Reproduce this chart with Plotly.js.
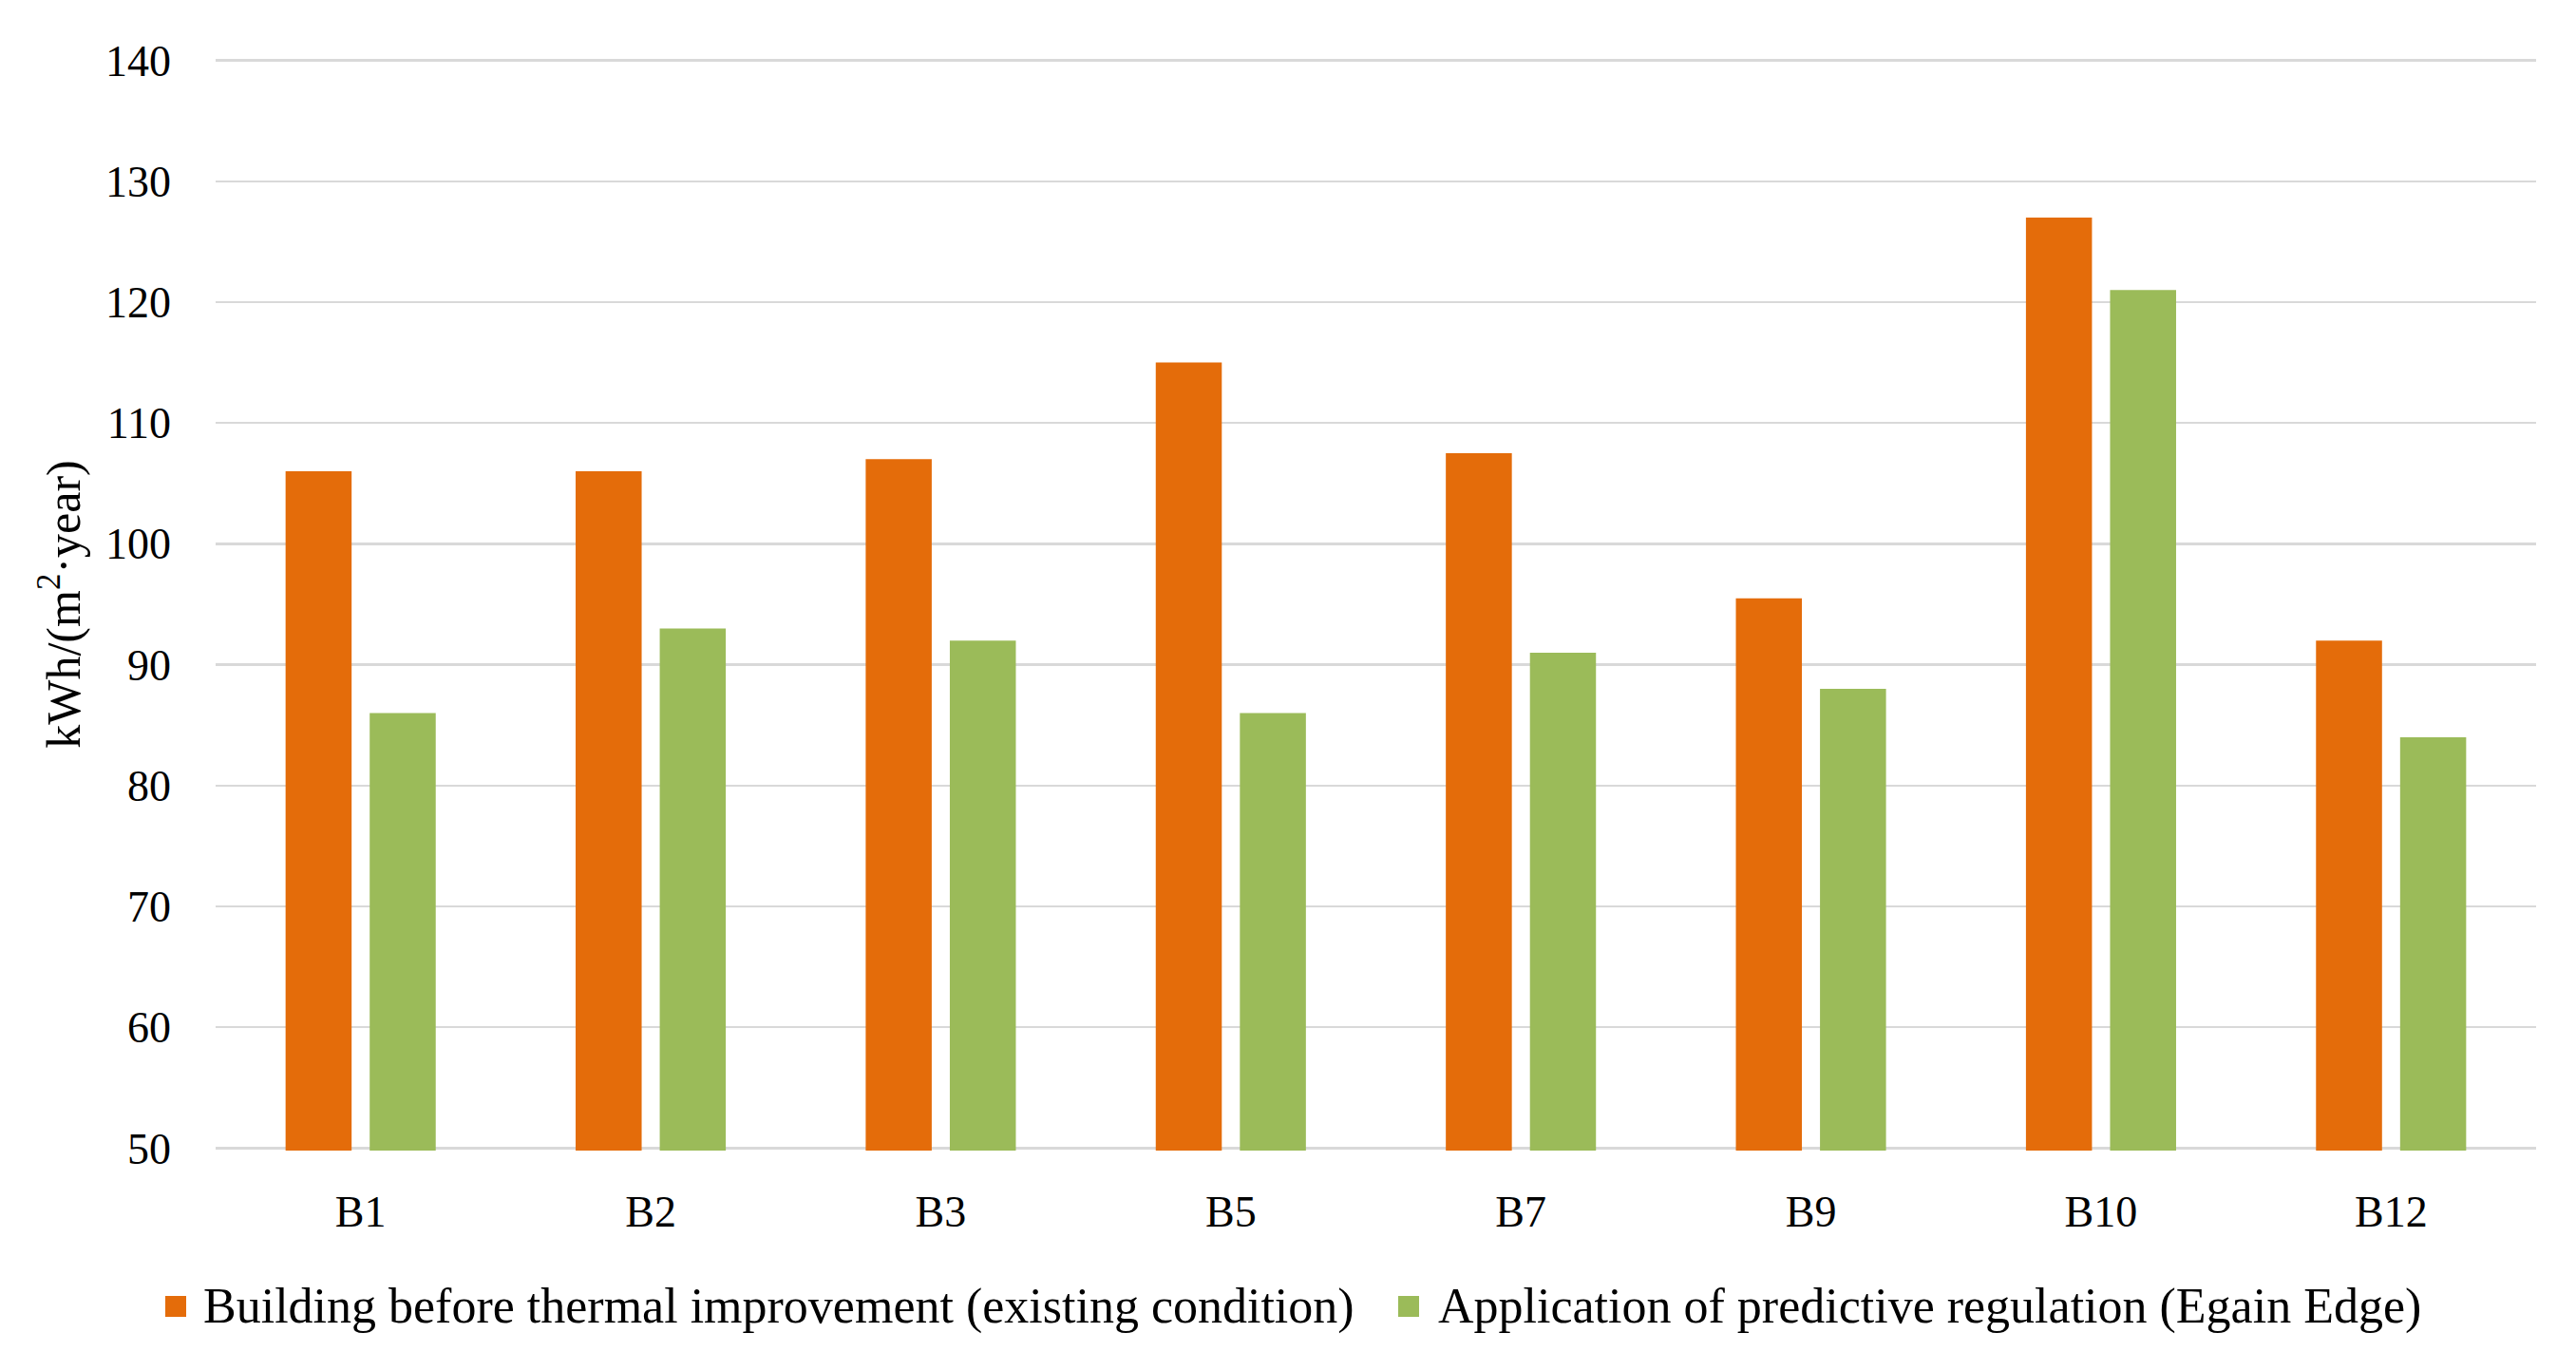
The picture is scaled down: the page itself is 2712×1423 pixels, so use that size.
<!DOCTYPE html>
<html>
<head>
<meta charset="utf-8">
<script src="https://cdn.plot.ly/plotly-3.0.1.min.js"></script>
<style>html,body{margin:0;padding:0;background:#fff;}#chart{width:2712px;height:1423px;}</style>
</head>
<body>
<div id="chart"></div>
<script>
const categories = ["B1", "B2", "B3", "B5", "B7", "B9", "B10", "B12"];
const seriesNames = [
  "Building before thermal improvement (existing condition)",
  "Application of predictive regulation (Egain Edge)"
];
const beforeValues = [106, 106, 107, 115, 107.5, 95.5, 127, 92];
const predictiveValues = [86, 93, 92, 86, 91, 88, 121, 84];
const yTickValues = [50, 60, 70, 80, 90, 100, 110, 120, 130, 140];
const yTitle = "kWh/(m<sup>2</sup>·year)";
const seriesColors = ["#E46C0A", "#9BBB59"];

const FONT = "'Liberation Serif', 'Times New Roman', serif";

// page geometry (pixels)
const W = 2712, H = 1423;
const M = {l: 227, r: 42, t: 61, b: 212};
const plotW = W - M.l - M.r, plotH = H - M.t - M.b;
const px2x = function (px) { return (px - M.l) / plotW; };
const py2y = function (py) { return 1 - (py - M.t) / plotH; };

const traces = [
  {
    type: "bar", name: seriesNames[0], x: categories, y: beforeValues,
    marker: {color: seriesColors[0], line: {width: 0}}, hoverinfo: "x+y"
  },
  {
    type: "bar", name: seriesNames[1], x: categories, y: predictiveValues,
    marker: {color: seriesColors[1], line: {width: 0}}, hoverinfo: "x+y"
  }
];

// custom legend placement
const legendY = 1375, sq = 22;
const legendItems = [
  {sqLeft: 174, textLeft: 212},
  {sqLeft: 1472, textLeft: 1512}
];
const shapes = legendItems.map(function (it, i) {
  return {
    type: "rect", xref: "paper", yref: "paper",
    x0: px2x(it.sqLeft), x1: px2x(it.sqLeft + sq),
    y0: py2y(legendY + sq / 2), y1: py2y(legendY - sq / 2),
    fillcolor: seriesColors[i], line: {width: 0}, layer: "above"
  };
});
const annotations = legendItems.map(function (it, i) {
  return {
    xref: "paper", yref: "paper", x: px2x(it.textLeft), y: py2y(legendY),
    xanchor: "left", yanchor: "middle", showarrow: false,
    text: seriesNames[i],
    font: {family: FONT, size: 52, color: "#000000"}
  };
});

const layout = {
  width: W, height: H,
  paper_bgcolor: "#ffffff", plot_bgcolor: "#ffffff",
  margin: M,
  font: {family: FONT, size: 46, color: "#000000"},
  barmode: "group", bargap: 0.42, bargroupgap: 0.215,
  showlegend: false,
  xaxis: {
    type: "category", showgrid: false, zeroline: false, showline: false,
    ticks: "", ticklabelstandoff: 33,
    tickfont: {family: FONT, size: 46, color: "#000000"}
  },
  yaxis: {
    range: [49.8, 140.2], tickvals: yTickValues, ticktext: yTickValues.map(String),
    showgrid: true, gridcolor: "#D9D9D9", gridwidth: 2.5,
    zeroline: false, showline: false, ticks: "", ticklabelstandoff: 46,
    tickfont: {family: FONT, size: 46, color: "#000000"},
    title: {text: yTitle, standoff: 10, font: {family: FONT, size: 50, color: "#000000"}}
  },
  shapes: shapes,
  annotations: annotations
};

Plotly.newPlot("chart", traces, layout, {displayModeBar: false, staticPlot: true});
</script>
</body>
</html>
